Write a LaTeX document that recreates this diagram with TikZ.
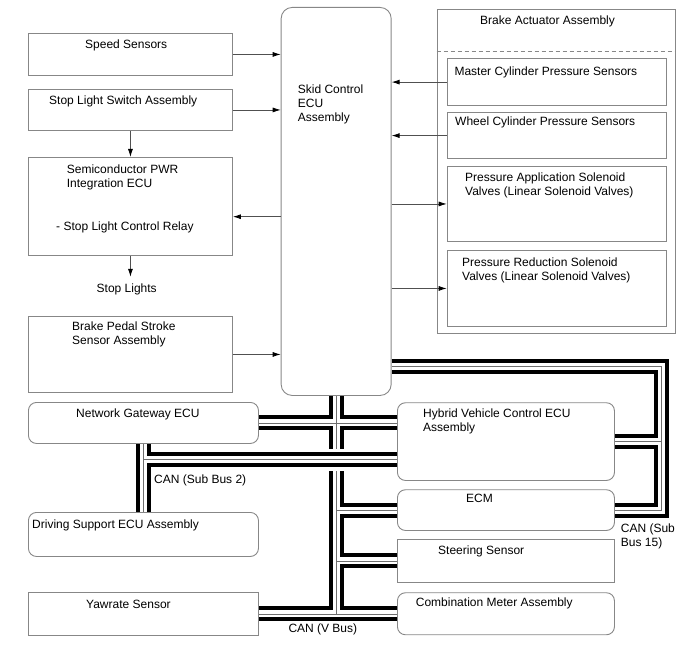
\documentclass[tikz,border=0pt]{standalone}
\usepackage{fontspec}
\setmainfont{Liberation Sans}
\usepackage{tikz}
\usetikzlibrary{arrows.meta,positioning,calc,backgrounds}
\usepackage{xcolor}
\definecolor{boxgrey}{RGB}{135,135,135}
\definecolor{wiregrey}{RGB}{80,80,80}
\definecolor{coregrey}{RGB}{110,110,110}

\begin{document}
\begin{tikzpicture}[x=1pt, y=-1pt,
    unit/.style={rectangle, draw=boxgrey, line width=0.9pt, anchor=north west, inner sep=0pt},
    ecu/.style={unit, rounded corners=8pt},
    txt/.style={anchor=north west, inner sep=0pt, align=left, font=\fontsize{12}{14}\selectfont},
    arr/.style={-{Latex[length=8pt,width=5pt,color=black]}, draw=wiregrey, line width=0.8pt},
    bushalo/.style={line width=22pt, white},
    busouter/.style={line width=15pt, black},
    businner/.style={line width=7pt, white},
    buscore/.style={line width=0.8pt, coregrey}
]
\useasboundingbox (0,0) rectangle (688,658);

% left column
\node[unit, minimum width=204, minimum height=42]   (speed)   at (28,33)  {};
\node[unit, minimum width=204, minimum height=41]   (stopsw)  at (28,89)  {};
\node[unit, minimum width=204, minimum height=98]   (semi)    at (28,157) {};
\node[unit, minimum width=204, minimum height=76]   (pedal)   at (28,316) {};
\node[ecu,  minimum width=230, minimum height=41]   (gateway) at (28,402) {};
\node[ecu,  minimum width=230, minimum height=44]   (drvsup)  at (28,512) {};
\node[unit, minimum width=230, minimum height=43]   (yaw)     at (28,592) {};

% skid control ecu
\node[ecu, rounded corners=11pt, minimum width=110, minimum height=388] (skid) at (280.7,7) {};

% brake actuator
\node[unit, minimum width=238.3, minimum height=324] (actuator) at (436.7,9)    {};
\node[unit, minimum width=219, minimum height=46.7]  (master)   at (446.7,58.3) {};
\node[unit, minimum width=219, minimum height=45.7]  (wheel)    at (446.7,112.3) {};
\node[unit, minimum width=219, minimum height=75]    (papply)   at (446.7,166)  {};
\node[unit, minimum width=219, minimum height=76]    (preduce)  at (446.7,250)  {};
\coordinate (split) at (0,51.7);
\draw[boxgrey, line width=0.8pt, dash pattern=on 4pt off 3pt] (actuator.west |- split) -- (actuator.east |- split);

% right column
\node[ecu,  minimum width=217, minimum height=77.7] (hybrid) at (397,402.3) {};
\node[ecu,  minimum width=217, minimum height=40.7] (ecm)    at (397,489.3) {};
\node[unit, minimum width=217, minimum height=42.4] (steer)  at (397,539.3) {};
\node[ecu,  minimum width=217, minimum height=42]   (combo)  at (397,592.3) {};

% texts
\node[txt] (speedtxt)   at (85,40)     {Speed Sensors};
\node[txt] (stopswtxt)  at (49,96)     {Stop Light Switch Assembly};
\node[txt] (semitxt)    at (66.7,165)  {Semiconductor PWR\\Integration ECU};
\node[txt] (relaytxt)   at (56,221.7)  {- Stop Light Control Relay};
\node[txt, anchor=north, inner ysep=6.5pt] (stoplights) at (126.7,276.8) {Stop Lights};
\node[txt] (pedaltxt)   at (72,321.7)  {Brake Pedal Stroke\\Sensor Assembly};
\node[txt] (gatewaytxt) at (76,408.3)  {Network Gateway ECU};
\node[txt] (drvsuptxt)  at (32,520)    {Driving Support ECU Assembly};
\node[txt] (yawtxt)     at (86,599.7)  {Yawrate Sensor};
\node[txt] (skidtxt)    at (297.7,85)  {Skid Control\\ECU\\Assembly};
\node[txt] (acttxt)     at (480,16)    {Brake Actuator Assembly};
\node[txt] (mastertxt)  at (454.3,66.7) {Master Cylinder Pressure Sensors};
\node[txt] (wheeltxt)   at (455,116.7) {Wheel Cylinder Pressure Sensors};
\node[txt] (papplytxt)  at (465,172.7) {Pressure Application Solenoid\\Valves (Linear Solenoid Valves)};
\node[txt] (preducetxt) at (462,257.7) {Pressure Reduction Solenoid\\Valves (Linear Solenoid Valves)};
\node[txt] (hybridtxt)  at (423,409)   {Hybrid Vehicle Control ECU\\Assembly};
\node[txt] (ecmtxt)     at (466,493.7) {ECM};
\node[txt] (steertxt)   at (438,545.7) {Steering Sensor};
\node[txt] (combotxt)   at (415.7,598) {Combination Meter Assembly};
\node[txt] (canv)       at (288.3,624) {CAN (V Bus)};
\node[txt] (cansub2)    at (154,474.3) {CAN (Sub Bus 2)};
\node[txt] (cansub15)   at (620.7,523.3) {CAN (Sub\\Bus 15)};

% signal lines
\coordinate (relay) at (0,216.7);
\draw[arr] (speed.east)  -- (speed.east -| skid.west);
\draw[arr] (stopsw.east) -- (stopsw.east -| skid.west);
\draw[arr] (stopsw.south) -- (semi.north);
\draw[arr] (skid.west |- relay) -- (semi.east |- relay);
\draw[arr] (semi.south) -- (semi.south |- stoplights.north);
\draw[arr] (pedal.east)  -- (pedal.east -| skid.west);
\draw[arr] (master.west) -- (master.west -| skid.east);
\draw[arr] (wheel.west)  -- (wheel.west -| skid.east);
\draw[arr] (skid.east |- papply.west)  -- (papply.west);
\draw[arr] (skid.east |- preduce.west) -- (preduce.west);

% can buses
\begin{pgfonlayer}{background}
\coordinate (sb2)  at (143,459.5);
\coordinate (sb15) at (661,366);
\foreach \layer in {busouter,businner,buscore}
  \draw[\layer] (skid.south) -- (skid.south |- yaw.east)
                (yaw.east) -- (yaw.east -| combo.west)
                (gateway.east) -- (gateway.east -| hybrid.west)
                (skid.south |- ecm.west) -- (ecm.west)
                (skid.south |- steer.west) -- (steer.west);
\foreach \layer in {bushalo,busouter,businner,buscore}
  \draw[\layer] (gateway.south) -- (drvsup.north)
                (sb2) -- (sb2 -| hybrid.west);
\foreach \layer in {busouter,businner,buscore}
  \draw[\layer] (sb15 -| skid.east) -- (sb15) -- (sb15 |- ecm.east) -- (ecm.east)
                (sb15 |- hybrid.east) -- (hybrid.east);
\end{pgfonlayer}
\end{tikzpicture}
\end{document}
